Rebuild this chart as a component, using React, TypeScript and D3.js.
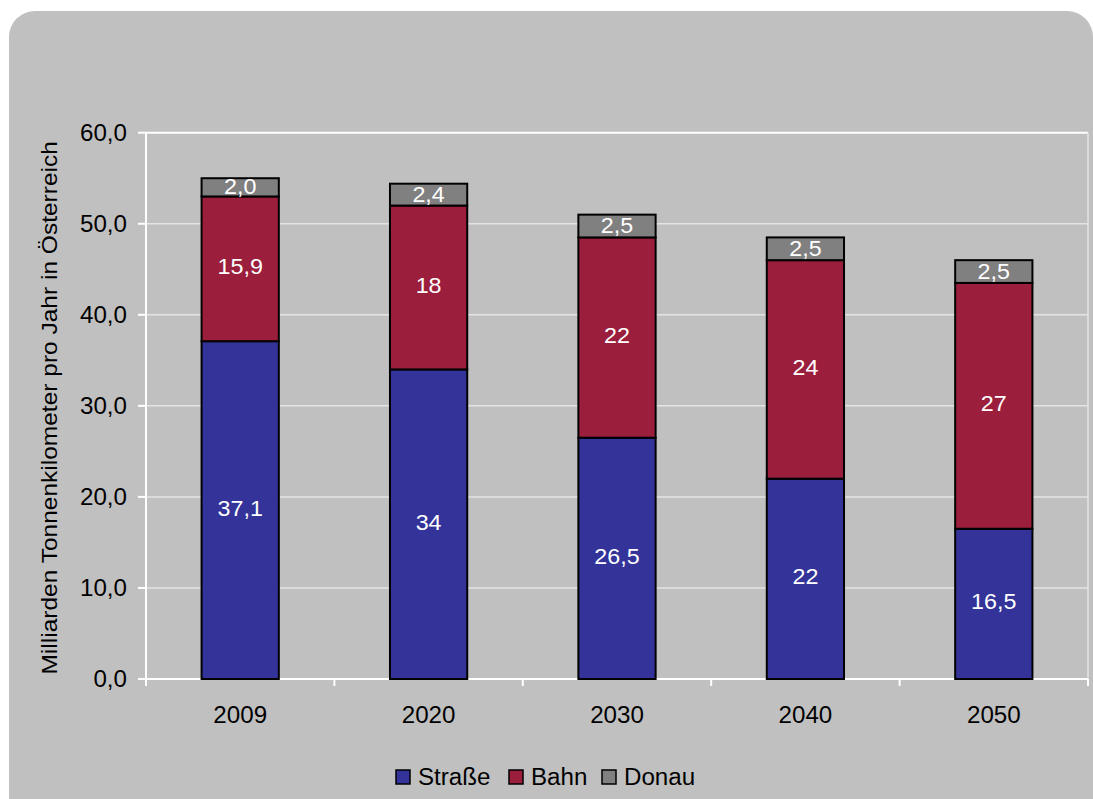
import React from "react";
import * as d3 from "d3";

const categories = ["2009", "2020", "2030", "2040", "2050"];
const strasse = [37.1, 34, 26.5, 22, 16.5];
const bahn = [15.9, 18, 22, 24, 27];
const donau = [2.0, 2.4, 2.5, 2.5, 2.5];
const strasseLabels = ["37,1", "34", "26,5", "22", "16,5"];
const bahnLabels = ["15,9", "18", "22", "24", "27"];
const donauLabels = ["2,0", "2,4", "2,5", "2,5", "2,5"];
const seriesNames = ["Straße", "Bahn", "Donau"];
const yTicks = [0, 10, 20, 30, 40, 50, 60];
const yTitle = "Milliarden Tonnenkilometer pro Jahr in Österreich";

const colors = ["#333399", "#9B1F3D", "#808080"];
const font = "'Liberation Sans', Arial, sans-serif";

function SText(props: { x: number; y: number; sx?: number; size: number; anchor?: string; fill?: string; rotate?: number; children: any }) {
  const { x, y, sx = 1.05, size, anchor = "start", fill = "#000", rotate = 0, children } = props;
  return (
    <text
      transform={`translate(${x},${y}) rotate(${rotate}) scale(${sx},1)`}
      textAnchor={anchor}
      fontFamily={font}
      fontSize={size}
      fill={fill}
    >
      {children}
    </text>
  );
}

export default function App() {
  const W = 1093, H = 799;
  const left = 146, right = 1088, top = 132.7, bottom = 679;
  const x = d3.scaleBand().domain(categories).range([left, right]).paddingInner(0.59).paddingOuter(0.295);
  const y = d3.scaleLinear().domain([0, 60]).range([bottom, top]);
  const band = d3.scaleBand().domain(categories).range([left, right]);

  const rows = categories.map((c, i) => ({ cat: c, Straße: strasse[i], Bahn: bahn[i], Donau: donau[i] }));
  const stack = d3.stack<any>().keys(seriesNames)(rows);
  const labels = [strasseLabels, bahnLabels, donauLabels];

  const legendX = [396, 509, 602];

  return (
    <svg width={W} height={H} style={{ position: "absolute", left: 0, top: 0 }}>
      <rect x={0} y={0} width={W} height={H} fill="#ffffff" />
      <rect x={9} y={11} width={1084} height={830} rx={26} ry={26} fill="#c0c0c0" />
      {/* gridlines */}
      {yTicks.map((t) => (
        <line key={"g" + t} x1={left} x2={right} y1={y(t)} y2={y(t)} stroke={t === 60 ? "#ffffff" : "#e4e4e4"} strokeWidth={t === 60 ? 2 : 1.5} />
      ))}
      <line x1={right} x2={right} y1={top} y2={bottom} stroke="#e4e4e4" strokeWidth={1.5} />
      {/* y axis */}
      <line x1={left} x2={left} y1={top} y2={bottom + 7} stroke="#ffffff" strokeWidth={2} />
      {yTicks.map((t) => (
        <g key={"t" + t}>
          <line x1={left - 8} x2={left} y1={y(t)} y2={y(t)} stroke="#ffffff" strokeWidth={2} />
          <SText x={127} y={y(t) + 8} size={23} anchor="end">
            {d3.format(".1f")(t).replace(".", ",")}
          </SText>
        </g>
      ))}
      {/* x axis */}
      <line x1={left} x2={right} y1={bottom} y2={bottom} stroke="#ffffff" strokeWidth={2} />
      {categories.map((c) => (
        <line key={"xt" + c} x1={(band(c) as number) + band.bandwidth()} x2={(band(c) as number) + band.bandwidth()} y1={bottom} y2={bottom + 7} stroke="#ffffff" strokeWidth={2} />
      ))}
      {categories.map((c) => (
        <SText key={"xl" + c} x={(x(c) as number) + x.bandwidth() / 2} y={722.5} size={23} anchor="middle">
          {c}
        </SText>
      ))}
      {/* bars */}
      {stack.map((s, si) => (
        <g key={s.key}>
          {s.map((d, i) => (
            <rect key={i} x={x(categories[i]) as number} width={x.bandwidth()} y={y(d[1])} height={y(d[0]) - y(d[1])} fill={colors[si]} stroke="#000" strokeWidth={2} />
          ))}
        </g>
      ))}
      {stack.map((s, si) => (
        <g key={"l" + s.key}>
          {s.map((d, i) => (
            <SText key={i} x={(x(categories[i]) as number) + x.bandwidth() / 2} y={(y(d[0]) + y(d[1])) / 2 + (si === 2 ? 7 : 5.5)} size={22} sx={1.06} anchor="middle" fill="#ffffff">
              {labels[si][i]}
            </SText>
          ))}
        </g>
      ))}
      {/* y title */}
      <SText x={57} y={(top + bottom) / 2 + 2} size={21.5} sx={1.14} rotate={-90} anchor="middle">
        {yTitle}
      </SText>
      {/* legend */}
      {seriesNames.map((n, i) => (
        <g key={"lg" + n}>
          <rect x={legendX[i]} y={770} width={14} height={14} fill={colors[i]} stroke="#000" strokeWidth={1.5} />
          <SText x={legendX[i] + 22} y={785} size={23}>
            {n}
          </SText>
        </g>
      ))}
    </svg>
  );
}
